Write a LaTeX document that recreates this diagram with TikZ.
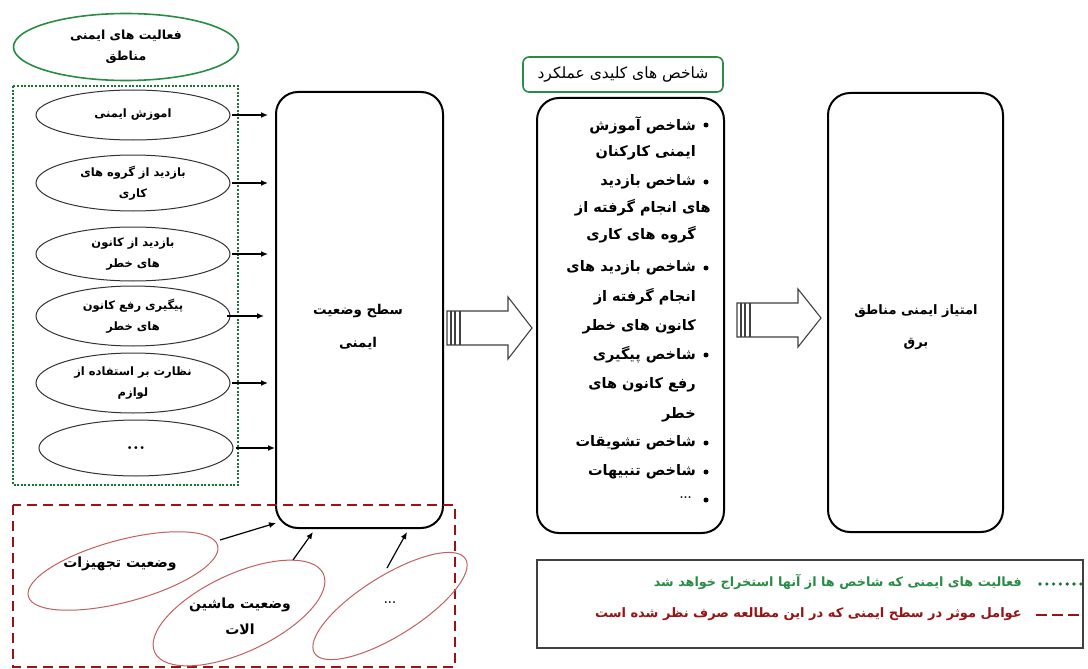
\documentclass[tikz,border=0pt]{standalone}
\usepackage{fontspec}
\usetikzlibrary{shapes.geometric,arrows.meta,calc}
\TeXXeTstate=1
\newfontfamily\arabicfont[Script=Arabic]{DejaVu Sans}
\newcommand{\rtlline}[1]{\beginR #1\endR}
\definecolor{grn}{RGB}{40,140,70}
\definecolor{dgrn}{RGB}{25,115,55}
\definecolor{dred}{RGB}{150,20,20}
\definecolor{lred}{RGB}{195,95,95}
\begin{document}
\begin{tikzpicture}[x=1pt,y=-1pt,
  fa/.style={font=\arabicfont\bfseries\fontsize{10}{21}\selectfont, align=center, inner sep=0pt},
  bigbox/.style={draw, line width=2pt, rounded corners=22pt, inner sep=0pt},
  lell/.style={draw=black!80, ellipse, line width=1pt, minimum width=194pt, inner sep=0pt,
     font=\arabicfont\bfseries\fontsize{11.5}{21}\selectfont, align=center},
  rell/.style={draw=lred, ellipse, line width=1pt, inner sep=0pt},
  arr/.style={-{Latex[length=7pt,width=6pt]}, line width=1.5pt},
  kpi/.style={font=\arabicfont\bfseries\fontsize{14.5}{16}\selectfont, anchor=east, inner sep=0pt},
  bul/.style={circle, fill=black, inner sep=0pt, minimum size=5pt},
  blockarr/.style={draw=black!75, line width=1.1pt, fill=white}
]
\useasboundingbox (0,0) rectangle (1088,669);
\fill[white] (0,0) rectangle (1088,669);

% top green ellipse
\node[draw=grn, ellipse, line width=1.6pt, minimum width=225pt, minimum height=67pt, inner sep=0pt,
  font=\arabicfont\bfseries\fontsize{12.5}{21}\selectfont, align=center] (top) at (126,47)
  {\rtlline{فعالیت های ایمنی}\\\rtlline{مناطق}};

% green dotted frame
\draw[dgrn, line width=2.2pt, dash pattern=on 2pt off 1.6pt] (13,86) rectangle (238,485);

% left ellipses
\node[lell, minimum height=50pt] (l1) at (133,115) {\rtlline{اموزش ایمنی}};
\node[lell, minimum height=56pt] (l2) at (133,183) {\rtlline{بازدید از گروه های}\\\rtlline{کاری}};
\node[lell, minimum height=54pt] (l3) at (133,254) {\rtlline{بازدید از کانون}\\\rtlline{های خطر}};
\node[lell, minimum height=60pt] (l4) at (133,316) {\rtlline{پیگیری رفع کانون}\\\rtlline{های خطر}};
\node[lell, minimum height=60pt] (l5) at (133,383) {\rtlline{نظارت بر استفاده از}\\\rtlline{لوازم}};
\node[lell, minimum height=56pt, font=\bfseries\fontsize{20}{20}\selectfont] (l6) at (136,448) {...};

% middle box
\node[bigbox, minimum width=167pt, minimum height=436pt] (mid) at (359.5,310) {};
\node[fa, font=\arabicfont\bfseries\fontsize{13.5}{33}\selectfont] (midt) at (358,327)
  {\rtlline{سطح وضعیت}\\\rtlline{ایمنی}};

% arrows from left ellipses
\draw[arr] ($(l1.east)+(1,0)$) -- ($(mid.west |- l1.east)+(-7,0)$);
\draw[arr] ($(l2.east)+(1,0)$) -- ($(mid.west |- l2.east)+(-7,0)$);
\draw[arr] ($(l3.east)+(1,0)$) -- ($(mid.west |- l3.east)+(-7,0)$);
\draw[arr] ($(l4.east)+(-4,0)$) -- ($(mid.west |- l4.east)+(-11,0)$);
\draw[arr] ($(l5.east)+(1,0)$) -- ($(mid.west |- l5.east)+(-7,0)$);
\draw[arr] ($(l6.east)+(2,0)$) -- (mid.west |- l6.east);

% red dashed frame
\draw[dred, line width=1.8pt, dash pattern=on 10pt off 6pt] (13,505) rectangle (455,667);

% red ellipses
\node[rell, minimum width=196pt, minimum height=62pt, rotate=15] (r1) at (123,571) {};
\node[font=\arabicfont\bfseries\fontsize{14}{25}\selectfont, inner sep=0pt] (r1t) at (120,564) {\rtlline{وضعیت تجهیزات}};
\node[rell, minimum width=186pt, minimum height=78pt, rotate=25] (r2) at (239,613) {};
\node[font=\arabicfont\bfseries\fontsize{14}{26}\selectfont, align=center, inner sep=0pt] (r2t) at (240,616) {\rtlline{وضعیت ماشین}\\\rtlline{الات}};
\node[rell, minimum width=178pt, minimum height=60pt, rotate=32] (r3) at (390,606) {};
\node[font=\bfseries\fontsize{13}{14}\selectfont, inner sep=0pt] (r3t) at (390,603) {...};

\coordinate (s1) at (220,540); \coordinate (e1) at (276,523);
\coordinate (s2) at (293,560); \coordinate (e2) at (313,532);
\coordinate (s3) at (387,568); \coordinate (e3) at (407,532);
\draw[-{Latex[length=7pt,width=6pt]}, line width=1.2pt] (s1) -- (e1);
\draw[-{Latex[length=7pt,width=6pt]}, line width=1.2pt] (s2) -- (e2);
\draw[-{Latex[length=7pt,width=6pt]}, line width=1.2pt] (s3) -- (e3);

% block arrow 1
\draw[blockarr] (447,311) -- (508,311) -- (508,297) -- (532,328) -- (508,359) -- (508,345) -- (447,345) -- cycle;
\draw[black!75, line width=1.1pt] (451,311) -- (451,345) (455,311) -- (455,345) (460,311) -- (460,345);

% green title box
\node[draw=grn, line width=1.6pt, rounded corners=6pt, minimum width=200pt, minimum height=35pt, inner sep=0pt,
  font=\arabicfont\fontsize{15.5}{17}\selectfont] (kt) at (623,74.5) {\rtlline{شاخص های کلیدی عملکرد}};

% KPI box
\node[bigbox, minimum width=187pt, minimum height=435pt] (kbox) at (630.5,315.5) {};
\foreach \i/\y/\t in {
  0/125/{شاخص آموزش},
  1/153/{ایمنی کارکنان},
  2/182/{شاخص بازدید},
  4/235/{گروه های کاری},
  5/268/{شاخص بازدید های},
  6/297/{انجام گرفته از},
  7/327/{کانون های خطر},
  8/355/{شاخص پیگیری},
  9/385/{رفع کانون های},
  10/415/{خطر},
  11/443/{شاخص تشویقات},
  12/472/{شاخص تنبیهات}}
  {\node[kpi] (k\i) at (696,\y) {\rtlline{\t}};}
\node[kpi] (k3) at (711,208) {\rtlline{های انجام گرفته از}};
\node[font=\bfseries\fontsize{13}{14}\selectfont, anchor=east, inner sep=0pt] (k13) at (692,498) {...};
\foreach \i/\y in {0/125,2/182,5/268,8/355,11/443,12/472,13/500}
  {\node[bul] (b\i) at (706,\y) {};}

% block arrow 2
\draw[blockarr] (737,303) -- (798,303) -- (798,289) -- (821,318) -- (798,347) -- (798,337) -- (737,337) -- cycle;
\draw[black!75, line width=1.1pt] (741,303) -- (741,337) (745,303) -- (745,337) (750,303) -- (750,337);

% final box
\node[bigbox, minimum width=175pt, minimum height=439pt] (fbox) at (915.5,312.5) {};
\node[fa, font=\arabicfont\bfseries\fontsize{13}{32}\selectfont] (ft) at (916,327)
  {\rtlline{امتیاز ایمنی مناطق}\\\rtlline{برق}};

% legend
\node[draw=black!75, line width=1.3pt, minimum width=546pt, minimum height=88pt, inner sep=0pt] (leg) at (810,604) {};
\node[font=\arabicfont\bfseries\fontsize{12.8}{14}\selectfont, text=grn, anchor=east, inner sep=0pt] (lg1) at (1022,582)
  {\rtlline{فعالیت های ایمنی که شاخص ها از آنها استخراج خواهد شد}};
\node[font=\arabicfont\bfseries\fontsize{13}{14}\selectfont, text=dred, anchor=east, inner sep=0pt] (lg2) at (1022,614)
  {\rtlline{عوامل موثر در سطح ایمنی که در این مطالعه صرف نظر شده است}};
\foreach \k in {0,...,6}
  {\fill[dgrn] (1040+6.8*\k,584) circle (1.8pt);}
\draw[dred, line width=2pt, dash pattern=on 11pt off 5pt] (1036,615) -- (1084,615);
\end{tikzpicture}
\end{document}
